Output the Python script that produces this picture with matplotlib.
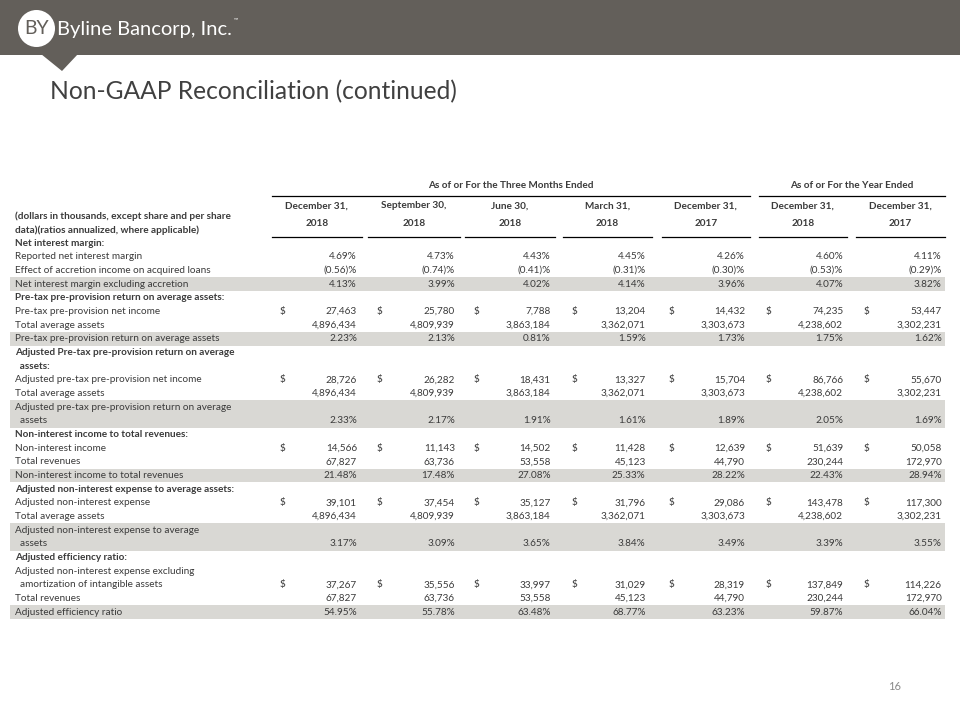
import matplotlib.pyplot as plt
from matplotlib.patches import Rectangle, Circle, Polygon

# Table content
col_top = ["December 31,", "September 30,", "June 30,", "March 31,",
           "December 31,", "December 31,", "December 31,"]
col_year = ["2018", "2018", "2018", "2018", "2017", "2018", "2017"]

labels = [
    "Net interest margin:",
    "Reported net interest margin",
    "Effect of accretion income on acquired loans",
    "Net interest margin excluding accretion",
    "Pre-tax pre-provision return on average assets:",
    "Pre-tax pre-provision net income",
    "Total average assets",
    "Pre-tax pre-provision return on average assets",
    "Adjusted Pre-tax pre-provision return on average",
    "  assets:",
    "Adjusted pre-tax pre-provision net income",
    "Total average assets",
    "Adjusted pre-tax pre-provision return on average",
    "  assets",
    "Non-interest income to total revenues:",
    "Non-interest income",
    "Total revenues",
    "Non-interest income to total revenues",
    "Adjusted non-interest expense to average assets:",
    "Adjusted non-interest expense",
    "Total average assets",
    "Adjusted non-interest expense to average",
    "  assets",
    "Adjusted efficiency ratio:",
    "Adjusted non-interest expense excluding",
    "  amortization of intangible assets",
    "Total revenues",
    "Adjusted efficiency ratio",
]
bold_rows = [0, 4, 8, 9, 14, 18, 23]
shaded_rows = [3, 7, 12, 13, 17, 21, 22, 27]
usd_rows = [5, 10, 15, 19, 25]

# floats are percentages, ints are dollar amounts / counts
q4_2018 = [None, 4.69, -0.56, 4.13, None, 27463, 4896434, 2.23, None, None,
           28726, 4896434, None, 2.33, None, 14566, 67827, 21.48, None, 39101,
           4896434, None, 3.17, None, None, 37267, 67827, 54.95]
q3_2018 = [None, 4.73, -0.74, 3.99, None, 25780, 4809939, 2.13, None, None,
           26282, 4809939, None, 2.17, None, 11143, 63736, 17.48, None, 37454,
           4809939, None, 3.09, None, None, 35556, 63736, 55.78]
q2_2018 = [None, 4.43, -0.41, 4.02, None, 7788, 3863184, 0.81, None, None,
           18431, 3863184, None, 1.91, None, 14502, 53558, 27.08, None, 35127,
           3863184, None, 3.65, None, None, 33997, 53558, 63.48]
q1_2018 = [None, 4.45, -0.31, 4.14, None, 13204, 3362071, 1.59, None, None,
           13327, 3362071, None, 1.61, None, 11428, 45123, 25.33, None, 31796,
           3362071, None, 3.84, None, None, 31029, 45123, 68.77]
q4_2017 = [None, 4.26, -0.30, 3.96, None, 14432, 3303673, 1.73, None, None,
           15704, 3303673, None, 1.89, None, 12639, 44790, 28.22, None, 29086,
           3303673, None, 3.49, None, None, 28319, 44790, 63.23]
fy_2018 = [None, 4.60, -0.53, 4.07, None, 74235, 4238602, 1.75, None, None,
           86766, 4238602, None, 2.05, None, 51639, 230244, 22.43, None, 143478,
           4238602, None, 3.39, None, None, 137849, 230244, 59.87]
fy_2017 = [None, 4.11, -0.29, 3.82, None, 53447, 3302231, 1.62, None, None,
           55670, 3302231, None, 1.69, None, 50058, 172970, 28.94, None, 117300,
           3302231, None, 3.55, None, None, 114226, 172970, 66.04]
columns = [q4_2018, q3_2018, q2_2018, q1_2018, q4_2017, fy_2018, fy_2017]

# layout (pixels)
line_start = [271.7, 368, 465, 563.3, 661.7, 759, 856]
line_end = [361.7, 460, 555, 651.7, 750, 846.7, 945]
dollar_x = [280, 376.7, 473.5, 571.7, 668.3, 766, 863.3]
value_x = [357, 455, 550.7, 645.7, 745, 843.3, 941.7]
row_y0 = 243
row_h = 13.67

FONT = "Lato"
FS = 7.2
TXT = "#3b3b3b"
SHADE = "#d9d8d4"
BAR = "#635f5a"


def fmt(v):
    if isinstance(v, float):
        if v < 0:
            return f"({-v:.2f})%"
        return f"{v:.2f}%"
    return f"{v:,}"


fig = plt.figure(figsize=(9.6, 7.2), dpi=100)
ax = fig.add_axes([0, 0, 1, 1])
ax.set_xlim(0, 960)
ax.set_ylim(720, 0)
ax.axis("off")

# header bar with logo
ax.add_patch(Rectangle((0, 0), 960, 55, color=BAR, lw=0))
ax.add_patch(Polygon([[41, 54], [78, 54], [62, 71]], closed=True, color=BAR, lw=0))
ax.add_patch(Circle((36.5, 28.5), 18.5, color="white", lw=0))
ax.text(36.5, 29, "BY", ha="center", va="center", fontsize=14, color=BAR,
        family=FONT)
ax.text(57, 29, "Byline Bancorp, Inc.", ha="left", va="center", fontsize=14.5,
        color="white", family=FONT)
ax.text(234, 20, "™", ha="left", va="center", fontsize=4, color="white", family=FONT)

ax.text(50, 92, "Non-GAAP Reconciliation (continued)", ha="left", va="center",
        fontsize=17.7, color="#404040", family=FONT)

# group headers
ax.text((line_start[0] + line_end[4]) / 2, 186, "As of or For the Three Months Ended",
        ha="center", va="center", fontsize=FS, fontweight="bold", color=TXT, family=FONT)
ax.text((line_start[5] + line_end[6]) / 2, 186, "As of or For the Year Ended",
        ha="center", va="center", fontsize=FS, fontweight="bold", color=TXT, family=FONT)
ax.plot([line_start[0], line_end[4]], [195.5, 195.5], color="black", lw=0.9)
ax.plot([line_start[5], line_end[6]], [195.5, 195.5], color="black", lw=0.9)

for i in range(7):
    cx = (line_start[i] + line_end[i]) / 2
    ax.text(cx, 206, col_top[i], ha="center", va="center", fontsize=FS,
            fontweight="bold", color=TXT, family=FONT)
    ax.text(cx, 224, col_year[i], ha="center", va="center", fontsize=FS,
            fontweight="bold", color=TXT, family=FONT)
    ax.plot([line_start[i], line_end[i]], [236.5, 236.5], color="black", lw=0.9)

ax.text(15, 216.5, "(dollars in thousands, except share and per share", ha="left",
        va="center", fontsize=FS, fontweight="bold", color=TXT, family=FONT)
ax.text(15, 230, "data)(ratios annualized, where applicable)", ha="left",
        va="center", fontsize=FS, fontweight="bold", color=TXT, family=FONT)

# body rows
for r, lab in enumerate(labels):
    y = row_y0 + r * row_h
    if r in shaded_rows:
        ax.add_patch(Rectangle((10, y - row_h / 2), 935, row_h, color=SHADE, lw=0))
    ax.text(15, y, lab, ha="left", va="center", fontsize=FS, color=TXT, family=FONT,
            fontweight="bold" if r in bold_rows else "normal")
    for c, col in enumerate(columns):
        v = col[r]
        if v is None:
            continue
        if r in usd_rows:
            ax.text(dollar_x[c], y, "$", ha="left", va="center", fontsize=FS,
                    color=TXT, family=FONT)
        ax.text(value_x[c], y, fmt(v), ha="right", va="center", fontsize=FS,
                color=TXT, family=FONT)

ax.text(895, 686, "16", ha="center", va="center", fontsize=8, color="#8a8a8a",
        family=FONT)

fig.savefig("out.png", dpi=100)
